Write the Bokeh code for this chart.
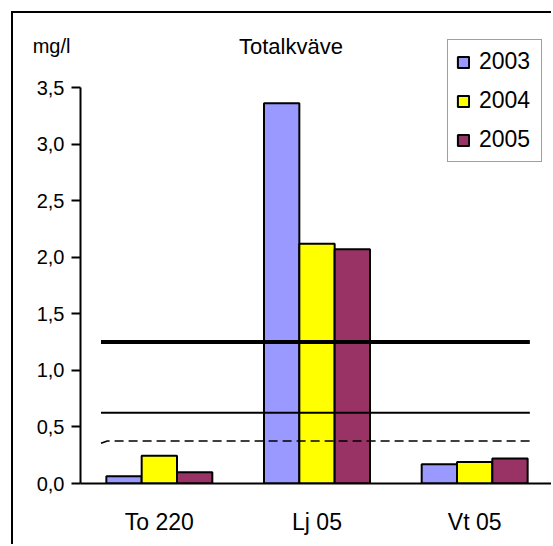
from bokeh.plotting import figure
from bokeh.models import (ColumnDataSource, FactorRange, Range1d, FixedTicker,
                          Legend, LegendItem, Label, LinearAxis)
from bokeh.transform import dodge
from bokeh.embed import file_html
from bokeh.resources import INLINE

# Total nitrogen (mg/l) per station and year
stations = ["To 220", "Lj 05", "Vt 05"]
years = ["2003", "2004", "2005"]
n_2003 = [0.065, 3.36, 0.17]
n_2004 = [0.245, 2.12, 0.19]
n_2005 = [0.10, 2.07, 0.22]
year_colors = ["#9999FF", "#FFFF00", "#993366"]

# Class limits and reference level
class_limit_high = 1.25
class_limit_low = 0.625
reference_level = [0.355, 0.375, 0.375]

y_ticks = [0.0, 0.5, 1.0, 1.5, 2.0, 2.5, 3.0, 3.5]
y_tick_labels = ["0,0", "0,5", "1,0", "1,5", "2,0", "2,5", "3,0", "3,5"]
unit_label = "mg/l"
unit_level = 3.87

FONT = "Liberation Sans"
TXT = "20px"

source = ColumnDataSource(dict(station=stations, y2003=n_2003,
                               y2004=n_2004, y2005=n_2005))

y_top = 3.5 * (483 - 13) / (483 - 87)

p = figure(width=540, height=533, x_range=FactorRange(*stations, range_padding=0),
           y_range=Range1d(0, y_top), output_backend="svg", toolbar_location=None,
           min_border_left=67, min_border_right=0, min_border_top=0,
           min_border_bottom=63)
p.margin = (11, 0, 0, 11)
p.styles = {"border-top": "2px solid black", "border-left": "2px solid black"}
p.outline_line_color = None
p.xgrid.grid_line_color = None
p.ygrid.grid_line_color = None
p.background_fill_color = "white"
p.border_fill_color = "white"

bar_w = 0.224
renderers = []
for i, (yr, col) in enumerate(zip(years, year_colors)):
    r = p.vbar(x=dodge("station", (i - 1) * bar_w, range=p.x_range),
               top="y" + yr, width=bar_w, source=source,
               fill_color=col, line_color="black", line_width=2)
    renderers.append(r)

# horizontal class-limit lines
x_ends = [0.13, 2.85]
p.line(x_ends, [class_limit_high] * 2, line_color="black", line_width=4)
p.line(x_ends, [class_limit_low] * 2, line_color="black", line_width=2)
p.line([0.13, 0.17, 2.85], reference_level, line_color="black",
       line_width=1.6, line_dash="9 5")

# value axis
p.yaxis.ticker = FixedTicker(ticks=y_ticks)
p.yaxis.major_label_overrides = dict(zip(y_ticks, y_tick_labels))
p.yaxis.bounds = (0, 3.5)
p.yaxis.major_tick_out = 9
p.yaxis.major_tick_in = 0
p.yaxis.minor_tick_line_color = None
p.yaxis.axis_line_width = 2
p.yaxis.major_tick_line_width = 2
p.yaxis.major_label_standoff = 7
p.yaxis.major_label_text_font = FONT
p.yaxis.major_label_text_font_size = TXT
p.yaxis.major_label_text_color = "black"

# unit text above the value axis
unit_axis = LinearAxis(ticker=FixedTicker(ticks=[unit_level]),
                       major_label_overrides={unit_level: unit_label},
                       axis_line_color=None, major_tick_line_color=None,
                       minor_tick_line_color=None, major_tick_out=0,
                       major_tick_in=0, major_label_standoff=-37,
                       major_label_text_font=FONT,
                       major_label_text_font_size=TXT,
                       major_label_text_color="black")
p.add_layout(unit_axis, "left")

p.xaxis.major_tick_line_color = None
p.xaxis.minor_tick_line_color = None
p.xaxis.axis_line_width = 2
p.xaxis.major_label_standoff = 19
p.xaxis.major_label_text_font = FONT
p.xaxis.major_label_text_font_size = "23px"
p.xaxis.major_label_text_color = "black"

# chart title
p.add_layout(Label(x=1.335, y=3.86, text="Totalkväve", text_align="center",
                   text_baseline="middle", text_font=FONT, text_font_size="22px",
                   text_color="black"))

legend = Legend(items=[LegendItem(label=yr, renderers=[r])
                       for yr, r in zip(years, renderers)],
                location=(367, 321))
legend.padding = 8
legend.margin = 0
legend.spacing = 12
legend.glyph_width = 14
legend.glyph_height = 14
legend.label_standoff = 9
legend.label_width = 54
legend.label_height = 27
legend.label_text_font = FONT
legend.label_text_font_size = "23px"
legend.label_text_color = "black"
legend.border_line_color = "#404040"
legend.border_line_width = 1
legend.background_fill_alpha = 1
p.add_layout(legend)

open("out.html", "w").write(file_html(p, INLINE))
